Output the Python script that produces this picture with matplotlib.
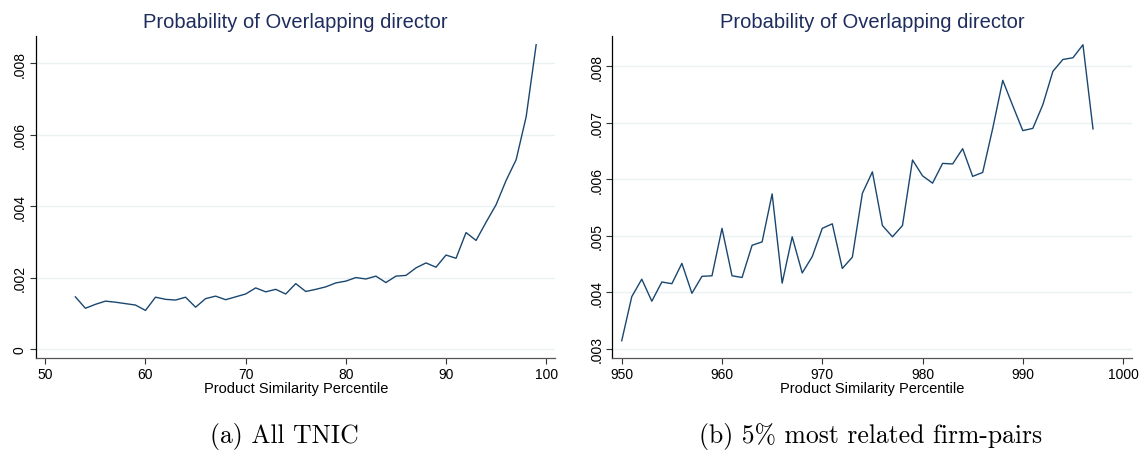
import matplotlib
matplotlib.use("Agg")
import matplotlib.pyplot as plt
import matplotlib.ticker as ticker

# --- Data ---

pct_all = list(range(53, 100))
prob_all = [
    1.46, 1.14, 1.25, 1.34, 1.31, 1.27, 1.23, 1.08, 1.45, 1.39,
    1.37, 1.45, 1.17, 1.41, 1.48, 1.38, 1.46, 1.54, 1.71, 1.60,
    1.67, 1.54, 1.83, 1.61, 1.67, 1.74, 1.85, 1.90, 2.00, 1.96,
    2.04, 1.86, 2.04, 2.06, 2.27, 2.41, 2.29, 2.63, 2.54, 3.26,
    3.04, 3.55, 4.04, 4.72, 5.30, 6.50, 8.52,
]
prob_all = [v / 1000 for v in prob_all]

pct_top = list(range(950, 998))
prob_top = [
    3.14, 3.92, 4.23, 3.84, 4.18, 4.15, 4.51, 3.98, 4.28, 4.29,
    5.13, 4.29, 4.26, 4.83, 4.89, 5.74, 4.16, 4.98, 4.34, 4.63,
    5.13, 5.21, 4.42, 4.62, 5.75, 6.13, 5.18, 4.98, 5.18, 6.34,
    6.06, 5.93, 6.28, 6.27, 6.54, 6.05, 6.12, 6.90, 7.75, 7.30,
    6.86, 6.90, 7.32, 7.91, 8.12, 8.15, 8.38, 6.89,
]
prob_top = [v / 1000 for v in prob_top]

xticks_all = [50, 60, 70, 80, 90, 100]
yticks_all = [0, 0.002, 0.004, 0.006, 0.008]
xticks_top = [950, 960, 970, 980, 990, 1000]
yticks_top = [0.003, 0.004, 0.005, 0.006, 0.007, 0.008]

title = "Probability of Overlapping director"
xlabel = "Product Similarity Percentile"
captions = ["(a) All TNIC", "(b) 5% most related firm-pairs"]

line_color = "#1a476f"
title_color = "#1e2d5e"
grid_color = "#eaf2f3"

plt.rcParams["font.family"] = ["Liberation Sans", "DejaVu Sans"]


def stata_fmt(x, _):
    if abs(x) < 1e-12:
        return "0"
    return f"{x:.3f}".lstrip("0")


fig = plt.figure(figsize=(11.43, 4.56), dpi=100)

# left, data, ticks, limits, caption centre
panels = [
    (0.0315, pct_all, prob_all, xticks_all, yticks_all, (49.07, 100.93), (-0.000244, 0.008756), 0.249),
    (0.5357, pct_top, prob_top, xticks_top, yticks_top, (949.06, 1000.87), (0.00284, 0.00853), 0.762),
]

for i, (left, xs, ys, xt, yt, xl, yl, cx) in enumerate(panels):
    ax = fig.add_axes([left, 0.2134, 0.4545, 0.7048])
    ax.plot(xs, ys, color=line_color, linewidth=1.0)
    ax.set_xlim(*xl)
    ax.set_ylim(*yl)
    ax.set_xticks(xt)
    ax.set_yticks(yt)
    ax.yaxis.set_major_formatter(ticker.FuncFormatter(stata_fmt))
    ax.grid(axis="y", color=grid_color, linewidth=1.0)
    ax.set_axisbelow(True)
    for s in ["top", "right"]:
        ax.spines[s].set_visible(False)
    ax.spines["left"].set_color("#000000")
    ax.spines["bottom"].set_color("#555555")
    ax.spines["left"].set_linewidth(0.9)
    ax.spines["bottom"].set_linewidth(0.9)
    ax.tick_params(axis="both", length=4, width=0.8, labelsize=10, color="#333333", pad=2.5)
    for lab in ax.get_yticklabels():
        lab.set_rotation(90)
        lab.set_va("center")
    ax.set_xlabel(xlabel, fontsize=10.5, labelpad=0)
    ax.set_title(title, fontsize=14.5, color=title_color, pad=6.5)
    fig.text(cx, 0.042, captions[i], ha="center", va="center",
             fontsize=18.5, family="cmr10")

fig.savefig("out.png", dpi=100)
